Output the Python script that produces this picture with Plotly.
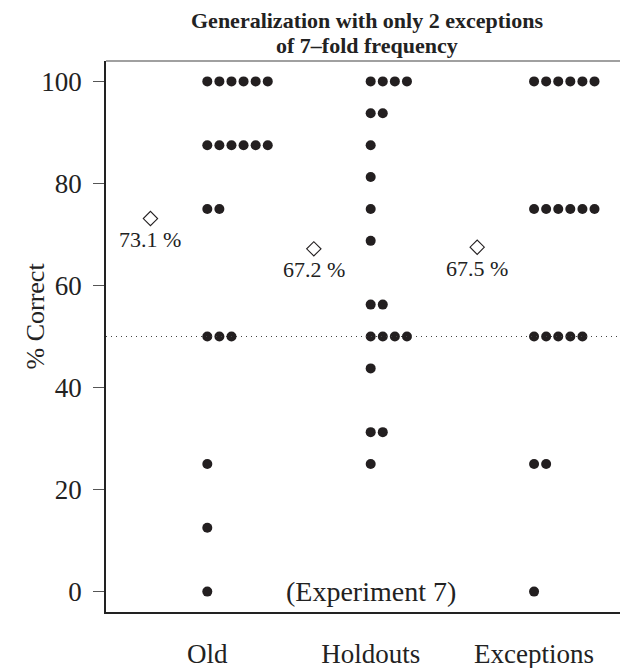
import plotly.graph_objects as go

# ---- data ----
categories = ["Old", "Holdouts", "Exceptions"]
old_scores = [100]*6 + [87.5]*6 + [75]*2 + [50]*3 + [25, 12.5, 0]
holdout_scores = ([100]*4 + [93.75]*2 + [87.5, 81.25, 75, 68.75] + [56.25]*2
                  + [50]*4 + [43.75] + [31.25]*2 + [25])
exception_scores = [100]*6 + [75]*6 + [50]*5 + [25]*2 + [0]
mean_labels = ["73.1 %", "67.2 %", "67.5 %"]
chance_level = 50
y_ticks = [0, 20, 40, 60, 80, 100]
title_lines = ["Generalization with only 2 exceptions", "of 7–fold frequency"]

series = [old_scores, holdout_scores, exception_scores]

DOT_STEP = 0.074      # horizontal spacing of stacked dots (x units)
MEAN_OFFSET = -0.348  # where the mean diamond sits relative to the column

FONT = "Liberation Serif, Times New Roman, serif"
DOT_COLOR = "#231f20"
TXT = "#222"

fig = go.Figure()

for ci, vals in enumerate(series):
    pos = ci + 1
    xs, ys = [], []
    counts = {}
    for v in vals:
        k = counts.get(v, 0)
        counts[v] = k + 1
        xs.append(pos + k * DOT_STEP)
        ys.append(v)
    fig.add_trace(go.Scatter(
        x=xs, y=ys, mode="markers",
        marker=dict(symbol="circle", size=10, color=DOT_COLOR, line=dict(width=0)),
        showlegend=False, hoverinfo="y"))
    mean = sum(vals) / len(vals)
    fig.add_trace(go.Scatter(
        x=[pos + MEAN_OFFSET], y=[mean], mode="markers",
        marker=dict(symbol="diamond-open", size=11, color=DOT_COLOR,
                    line=dict(width=1.1, color=DOT_COLOR)),
        showlegend=False, hoverinfo="y"))
    fig.add_annotation(x=pos + MEAN_OFFSET, y=mean, text=mean_labels[ci],
                       showarrow=False, yshift=-21,
                       font=dict(family=FONT, size=22, color=TXT))

fig.add_hline(y=chance_level, line=dict(color="#444", width=1, dash="1px,4px"))

fig.add_annotation(x=2, y=0, text="(Experiment 7)", showarrow=False,
                   font=dict(family=FONT, size=28, color=TXT))

# top border (lighter)
fig.add_shape(type="line", xref="paper", yref="paper", x0=0, x1=1, y0=1, y1=1,
              line=dict(color="#808080", width=1.5))

# two-line bold title
for line, shift in zip(title_lines, [41, 16]):
    fig.add_annotation(xref="paper", yref="paper", x=0.5, y=1, yanchor="middle",
                       yshift=shift, text=f"<b>{line}</b>", showarrow=False,
                       font=dict(family=FONT, size=22, color=TXT))

# y-axis title
fig.add_annotation(xref="paper", yref="paper", x=0, y=0.5, xanchor="center",
                   yanchor="middle", xshift=-71, yshift=20,
                   text="% Correct", textangle=-90, showarrow=False,
                   font=dict(family=FONT, size=26, color=TXT))

# the page body adds an 8px offset; the figure is sized to compensate
fig.update_layout(
    width=620, height=660,
    margin=dict(l=98, r=0, t=53, b=56),
    paper_bgcolor="white", plot_bgcolor="white",
    font=dict(family=FONT, color=TXT),
)
fig.update_xaxes(
    range=[0.380, 3.575], tickvals=[1, 2, 3], ticktext=categories,
    ticks="", showgrid=False, zeroline=False, automargin=False,
    showline=True, linecolor=TXT, linewidth=1.5,
    tickfont=dict(family=FONT, size=27, color=TXT),
    ticklabelstandoff=17,
)
fig.update_yaxes(
    range=[-4, 104], tickvals=y_ticks, ticks="outside", ticklen=11,
    tickcolor="#555", tickwidth=1, showgrid=False, zeroline=False,
    automargin=False,
    showline=True, linecolor=TXT, linewidth=1.5,
    tickfont=dict(family=FONT, size=27, color=TXT),
    ticklabelstandoff=6,
)

fig.write_html("out.html")
